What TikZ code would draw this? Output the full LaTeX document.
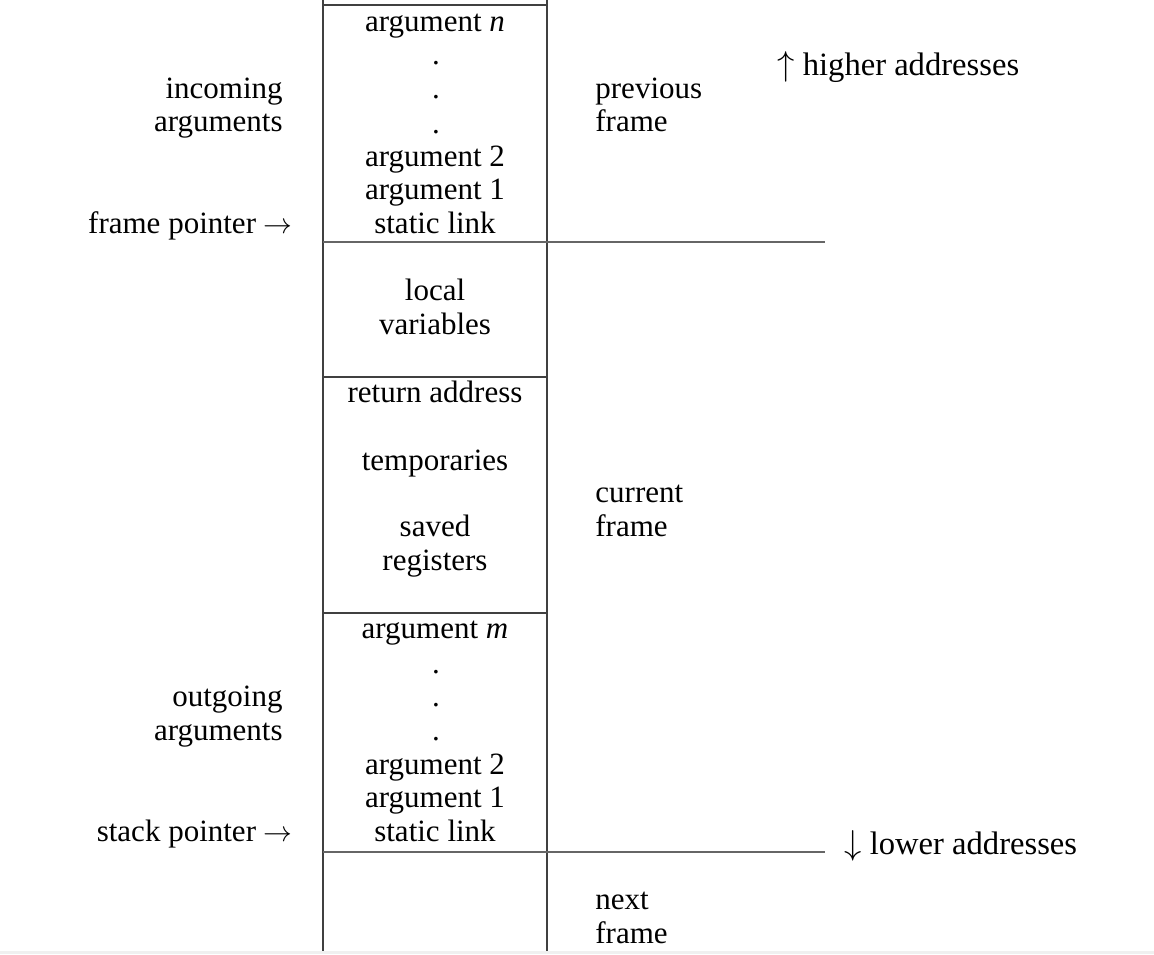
\documentclass[tikz,border=0pt]{standalone}
\usepackage{fontspec}
\setmainfont{Liberation Serif}
\begin{document}
\begin{tikzpicture}[x=0.5pt,y=-0.5pt,
  txt/.style={inner sep=0pt,font=\fontsize{15.5}{18}\selectfont},
  big/.style={inner sep=0pt,font=\fontsize{16.3}{19}\selectfont},
  mid/.style={txt,anchor=base},
  lft/.style={txt,anchor=base east},
  rgt/.style={txt,anchor=base west},
  box/.style={line width=0.9pt,draw=black!75},
  sep/.style={line width=0.8pt,draw=black!60}]
\useasboundingbox (0,0) rectangle (1154,954);
\fill[black!6] (0,951) rectangle (1154,954);
% column
\coordinate (tl) at (323,0); \coordinate (bl) at (323,951);
\coordinate (tr) at (547,0); \coordinate (br) at (547,951);
\draw[box] (tl) -- (bl);
\draw[box] (tr) -- (br);
\coordinate (l0) at (323,5);   \coordinate (r0) at (547,5);
\coordinate (l1) at (323,242); \coordinate (e1) at (825,242);
\coordinate (l2) at (323,377); \coordinate (r2) at (547,377);
\coordinate (l3) at (323,613); \coordinate (r3) at (547,613);
\coordinate (l4) at (323,852); \coordinate (e4) at (825,852);
\draw[box] (l0) -- (r0);
\draw[sep] (l1) -- (e1);
\draw[box] (l2) -- (r2);
\draw[box] (l3) -- (r3);
\draw[sep] (l4) -- (e4);
% incoming block
\node[mid] (an) at (435,31) {argument \textit{n}};
\node[mid] (d1) at (436,64) {.};
\node[mid] (d2) at (436,98.5) {.};
\node[mid] (d3) at (436,133) {.};
\node[mid] (a2) at (435,166) {argument 2};
\node[mid] (a1) at (435,199.5) {argument 1};
\node[mid] (sl) at (435,233) {static link};
% locals
\node[mid] (lo) at (435,300) {local};
\node[mid] (va) at (435,334) {variables};
\node[mid] (ra) at (435,402) {return address};
\node[mid] (te) at (435,470) {temporaries};
\node[mid] (sa) at (435,536) {saved};
\node[mid] (re) at (435,570) {registers};
% outgoing block
\node[mid] (am) at (435,638) {argument \textit{m}};
\node[mid] (e1d) at (436,673) {.};
\node[mid] (e2d) at (436,706) {.};
\node[mid] (e3d) at (436,740) {.};
\node[mid] (b2) at (435,774) {argument 2};
\node[mid] (b1) at (435,807.5) {argument 1};
\node[mid] (bs) at (435,841) {static link};
% left labels
\node[lft] (inc) at (283,98) {incoming};
\node[lft] (inca) at (283,131.5) {arguments};
\node[lft] (fp) at (293,233) {frame pointer $\rightarrow$};
\node[lft] (out) at (283,706) {outgoing};
\node[lft] (outa) at (283,740) {arguments};
\node[lft] (sp) at (293,841) {stack pointer $\rightarrow$};
% right labels
\node[rgt] (pv) at (595,98) {previous};
\node[rgt] (pf) at (595,131.5) {frame};
\node[rgt] (cu) at (595,502) {current};
\node[rgt] (cf) at (595,536) {frame};
\node[rgt] (nx) at (595,909) {next};
\node[rgt] (nf) at (595,943) {frame};
\node[big,anchor=base west] (hi) at (777,75) {$\uparrow$ higher addresses};
\node[big,anchor=base west] (lw) at (844,854) {$\downarrow$ lower addresses};
\end{tikzpicture}
\end{document}
